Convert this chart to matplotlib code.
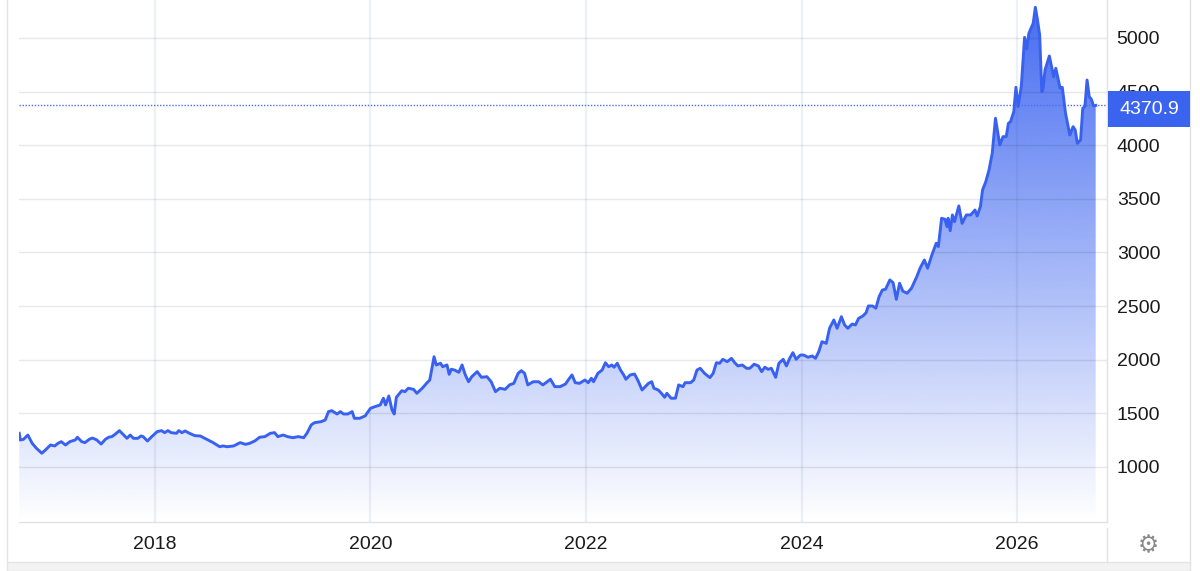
import numpy as np
import matplotlib
matplotlib.use('Agg')
import matplotlib.pyplot as plt
from matplotlib.patches import Polygon, Rectangle
from matplotlib.lines import Line2D
from matplotlib.colors import to_rgb

# price (decimal year, value)
years = [
    2016.74, 2016.75, 2016.78, 2016.82, 2016.86, 2016.90, 2016.95, 2016.99, 2017.03, 2017.07,
    2017.10, 2017.13, 2017.17, 2017.21, 2017.26, 2017.28, 2017.32, 2017.35, 2017.39, 2017.42,
    2017.46, 2017.50, 2017.54, 2017.57, 2017.60, 2017.63, 2017.67, 2017.71, 2017.74, 2017.77,
    2017.80, 2017.84, 2017.87, 2017.89, 2017.93, 2017.97, 2018.02, 2018.06, 2018.09, 2018.12,
    2018.15, 2018.20, 2018.22, 2018.25, 2018.28, 2018.32, 2018.37, 2018.42, 2018.48, 2018.54,
    2018.60, 2018.63, 2018.67, 2018.73, 2018.79, 2018.84, 2018.88, 2018.93, 2018.97, 2019.02,
    2019.07, 2019.11, 2019.14, 2019.19, 2019.23, 2019.28, 2019.33, 2019.38, 2019.41, 2019.45,
    2019.48, 2019.54, 2019.58, 2019.61, 2019.64, 2019.69, 2019.72, 2019.75, 2019.79, 2019.83,
    2019.85, 2019.90, 2019.95, 2020.00, 2020.04, 2020.09, 2020.12, 2020.14, 2020.17, 2020.20,
    2020.22, 2020.24, 2020.29, 2020.32, 2020.35, 2020.40, 2020.43, 2020.48, 2020.52, 2020.55,
    2020.57, 2020.59, 2020.61, 2020.65, 2020.67, 2020.71, 2020.73, 2020.75, 2020.78, 2020.82,
    2020.85, 2020.88, 2020.91, 2020.94, 2020.99, 2021.03, 2021.08, 2021.12, 2021.16, 2021.20,
    2021.25, 2021.29, 2021.33, 2021.37, 2021.40, 2021.43, 2021.46, 2021.51, 2021.56, 2021.60,
    2021.64, 2021.67, 2021.71, 2021.76, 2021.81, 2021.84, 2021.87, 2021.90, 2021.94, 2021.99,
    2022.02, 2022.05, 2022.07, 2022.11, 2022.15, 2022.18, 2022.21, 2022.24, 2022.26, 2022.29,
    2022.32, 2022.35, 2022.37, 2022.41, 2022.45, 2022.48, 2022.52, 2022.55, 2022.58, 2022.61,
    2022.63, 2022.67, 2022.70, 2022.73, 2022.75, 2022.79, 2022.83, 2022.86, 2022.90, 2022.92,
    2022.97, 2023.00, 2023.03, 2023.06, 2023.10, 2023.15, 2023.18, 2023.21, 2023.24, 2023.27,
    2023.31, 2023.35, 2023.38, 2023.41, 2023.45, 2023.49, 2023.52, 2023.56, 2023.60, 2023.63,
    2023.66, 2023.69, 2023.72, 2023.76, 2023.79, 2023.83, 2023.86, 2023.89, 2023.92, 2023.95,
    2023.99, 2024.02, 2024.06, 2024.10, 2024.13, 2024.16, 2024.19, 2024.23, 2024.26, 2024.30,
    2024.33, 2024.37, 2024.40, 2024.43, 2024.47, 2024.50, 2024.53, 2024.57, 2024.60, 2024.62,
    2024.66, 2024.69, 2024.72, 2024.75, 2024.78, 2024.82, 2024.85, 2024.88, 2024.91, 2024.94,
    2024.98, 2025.02, 2025.07, 2025.10, 2025.14, 2025.17, 2025.21, 2025.25, 2025.27, 2025.30,
    2025.33, 2025.35, 2025.36, 2025.38, 2025.40, 2025.42, 2025.46, 2025.49, 2025.53, 2025.57,
    2025.61, 2025.63, 2025.66, 2025.68, 2025.71, 2025.74, 2025.77, 2025.80, 2025.84, 2025.87,
    2025.90, 2025.92, 2025.94, 2025.97, 2025.99, 2026.01, 2026.04, 2026.07, 2026.09, 2026.11,
    2026.15, 2026.17, 2026.19, 2026.21, 2026.23, 2026.24, 2026.26, 2026.30, 2026.34, 2026.36,
    2026.40, 2026.42, 2026.45, 2026.49, 2026.52, 2026.54, 2026.56, 2026.59, 2026.61, 2026.63,
    2026.65, 2026.67, 2026.69, 2026.71, 2026.73,
]
prices = [
    1314, 1252, 1258, 1298, 1221, 1174, 1128, 1165, 1205, 1196,
    1221, 1236, 1205, 1236, 1252, 1277, 1236, 1227, 1258, 1270,
    1252, 1214, 1258, 1277, 1283, 1305, 1339, 1298, 1267, 1298,
    1267, 1267, 1289, 1283, 1242, 1283, 1329, 1339, 1320, 1339,
    1320, 1314, 1339, 1320, 1336, 1314, 1292, 1289, 1258, 1227,
    1189, 1196, 1189, 1196, 1227, 1211, 1221, 1245, 1277, 1283,
    1314, 1320, 1283, 1298, 1283, 1273, 1283, 1273, 1314, 1392,
    1413, 1422, 1438, 1516, 1525, 1494, 1516, 1494, 1494, 1516,
    1454, 1454, 1476, 1547, 1562, 1578, 1641, 1578, 1662, 1531,
    1494, 1650, 1711, 1702, 1734, 1724, 1687, 1734, 1780, 1811,
    1920, 2028, 1951, 1967, 1935, 1951, 1864, 1911, 1904, 1883,
    1951, 1858, 1795, 1842, 1889, 1836, 1842, 1795, 1702, 1734,
    1724, 1765, 1780, 1873, 1898, 1873, 1765, 1795, 1795, 1765,
    1795, 1818, 1749, 1749, 1774, 1818, 1858, 1786, 1780, 1811,
    1786, 1827, 1795, 1873, 1904, 1972, 1935, 1951, 1930, 1967,
    1904, 1858, 1818, 1858, 1867, 1811, 1718, 1749, 1780, 1795,
    1734, 1718, 1687, 1650, 1687, 1641, 1641, 1765, 1749, 1786,
    1786, 1811, 1904, 1920, 1873, 1833, 1873, 1972, 1967, 2004,
    1982, 2013, 1972, 1942, 1951, 1920, 1920, 1958, 1942, 1889,
    1930, 1911, 1920, 1836, 1967, 2004, 1942, 2013, 2066, 2004,
    2044, 2044, 2023, 2035, 2013, 2075, 2168, 2153, 2293, 2371,
    2293, 2401, 2324, 2293, 2333, 2324, 2386, 2408, 2439, 2501,
    2501, 2480, 2588, 2650, 2657, 2744, 2718, 2563, 2713, 2640,
    2620, 2666, 2775, 2853, 2930, 2853, 2977, 3086, 3055, 3319,
    3310, 3241, 3319, 3203, 3350, 3287, 3434, 3272, 3350, 3350,
    3396, 3340, 3427, 3583, 3660, 3769, 3925, 4251, 4002, 4080,
    4080, 4204, 4220, 4313, 4540, 4360, 4552, 5006, 4897, 5044,
    5137, 5286, 5168, 5028, 4499, 4515, 4702, 4832, 4639, 4717,
    4531, 4540, 4298, 4096, 4173, 4142, 4018, 4049, 4344, 4360,
    4608, 4453, 4428, 4366, 4370.9,
]
y_ticks = [1000, 1500, 2000, 2500, 3000, 3500, 4000, 4500, 5000]
x_ticks = [2018, 2020, 2022, 2024, 2026]
last_label = '4370.9'

assert len(years) == len(prices)

W, H = 1200, 571
blue = '#3961f0'
plt.rcParams['font.family'] = ['Liberation Sans', 'DejaVu Sans']

def fx(px):
    return px / W

def fy(py):
    return 1 - py / H

fig = plt.figure(figsize=(12, 5.71), dpi=100)
ax = fig.add_axes([fx(19), fy(522), fx(1107) - fx(19), fy(0) - fy(522)])

xmin, xmax = 2016.738, 2026.835
ymin, ymax = 487, 5354

# gradient area under the line
ramp = np.linspace(0, 0.95, 256)
rgba = np.zeros((256, 1, 4))
rgba[..., :3] = to_rgb('#3a63f0')
rgba[..., 3] = ramp[:, None]
im = ax.imshow(rgba, extent=[xmin, xmax, ymin, ymax], origin='lower', aspect='auto', zorder=1)
verts = [(years[0], ymin)] + list(zip(years, prices)) + [(years[-1], ymin)]
area = Polygon(verts, closed=True, facecolor='none', edgecolor='none')
ax.add_patch(area)
im.set_clip_path(area)

ax.plot(years, prices, color=blue, lw=2.1, zorder=4, solid_joinstyle='round')
ax.axhline(prices[-1], color='#4a6ef2', lw=1, ls=(0, (1, 1.2)), zorder=3)

ax.set_xlim(xmin, xmax)
ax.set_ylim(ymin, ymax)

ax.set_yticks(y_ticks)
ax.set_yticklabels([str(v) for v in y_ticks])
ax.set_xticks(x_ticks)
ax.set_xticklabels([str(v) for v in x_ticks])
ax.yaxis.tick_right()
ax.tick_params(axis='y', length=0, pad=7, labelsize=14, labelcolor='#1a1a1a')
ax.tick_params(axis='x', length=0, pad=10, labelsize=14, labelcolor='#1a1a1a')

ax.set_axisbelow(False)
ax.yaxis.grid(True, color='#000000', alpha=0.09, lw=1)
ax.xaxis.grid(True, color='#40598f', alpha=0.09, lw=1.6)

for side in ('top', 'left'):
    ax.spines[side].set_visible(False)
for side in ('bottom', 'right'):
    ax.spines[side].set_color('#e2e2e2')
    ax.spines[side].set_linewidth(1)

# frame bits around the chart
fig.add_artist(Line2D([fx(7), fx(7)], [fy(0), fy(562)], transform=fig.transFigure, color='#e3e3e3', lw=1))
fig.add_artist(Line2D([fx(1190), fx(1190)], [fy(0), fy(562)], transform=fig.transFigure, color='#e3e3e3', lw=1))
fig.add_artist(Line2D([fx(1107), fx(1107)], [fy(528), fy(562)], transform=fig.transFigure, color='#e3e3e3', lw=1))
fig.add_artist(Rectangle((fx(7), 0), fx(1190) - fx(7), fy(562), transform=fig.transFigure,
                         facecolor='#f3f3f3', edgecolor='#e4e4e4', lw=1))

# current value badge
fig.add_artist(Rectangle((fx(1108), fy(127)), fx(1190) - fx(1108), fy(91) - fy(127),
                         transform=fig.transFigure, facecolor='#3a63f0', edgecolor='none', zorder=5))
fig.text(fx(1149), fy(109), last_label, color='white', fontsize=14, ha='center', va='center', zorder=6)

fig.text(fx(1148), fy(545), '\u2699', color='#8a8a8a', fontsize=17, ha='center', va='center',
         family='DejaVu Sans')

fig.savefig('out.png', dpi=100)
